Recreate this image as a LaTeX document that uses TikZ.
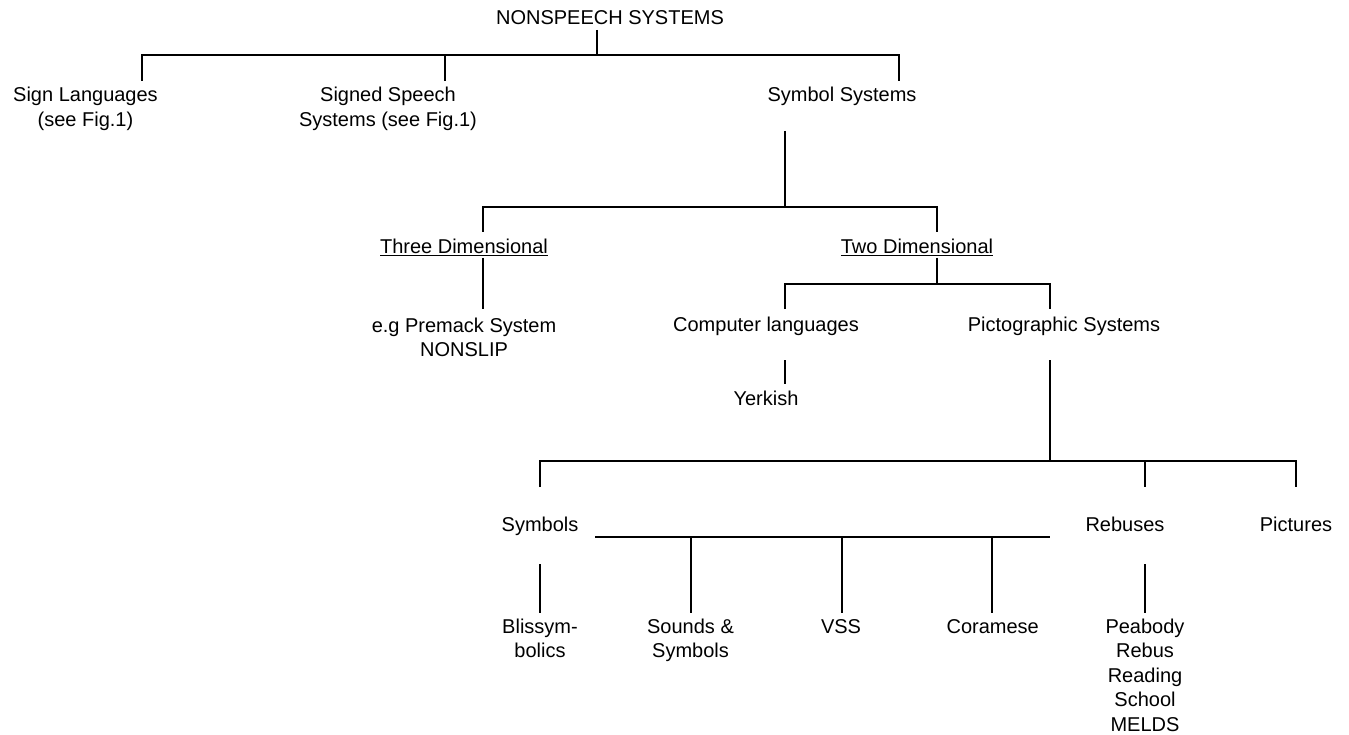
\documentclass[tikz,border=0pt]{standalone}
\usepackage{fontspec}
\setmainfont{Liberation Sans}
\usepackage{tikz}
\usetikzlibrary{positioning}
\definecolor{NSInk}{HTML}{000000}
\definecolor{NSPaper}{HTML}{FFFFFF}
\tikzset{
  branch/.style={draw=NSInk,line width=1.9pt,line join=miter},
  twig/.style={branch,line width=1.7pt},
  entry/.style={text=NSInk,font=\fontsize{20}{24.5}\selectfont,align=center,
                anchor=base,inner sep=0pt},
}

\begin{document}
\begin{tikzpicture}[x=1pt,y=-1pt]
    \fill[NSPaper] (0,0) rectangle (1349,735);
    \useasboundingbox (0,0) rectangle (1349,735);

    % root and its three branches (multi-line entries sit on their last line)
    \node[entry] (nonspeech) at (610,25) {NONSPEECH SYSTEMS};
    \node[entry] (signlang) at (85.5,126.2) {Sign Languages\\(see Fig.1)};
    \node[entry] (signedsp) at (388,126.2) {Signed Speech\\Systems (see Fig.1)};
    \node[entry] (symbolsys) at (842,102) {Symbol Systems};

    \coordinate (root-top) at (597,30);
    \coordinate (root-bus) at (597,55);
    \coordinate (sign-bus) at (142,55);
    \coordinate (sign-end) at (142,81);
    \coordinate (signed-bus) at (445,55);
    \coordinate (signed-end) at (445,81);
    \coordinate (symsys-bus) at (899,55);
    \coordinate (symsys-end) at (899,81);
    \draw[branch] (root-top) -- (root-bus);
    \draw[branch] (sign-end) -- (sign-bus) -- (symsys-bus) -- (symsys-end);
    \draw[branch] (signed-bus) -- (signed-end);

    % symbol systems: three / two dimensional
    \node[entry] (threedim) at (464,254) {\underline{Three Dimensional}};
    \node[entry] (twodim) at (917,254) {\underline{Two Dimensional}};

    \coordinate (symsys-low) at (785,131);
    \coordinate (dim-bus) at (785,207);
    \coordinate (threedim-bus) at (483,207);
    \coordinate (threedim-end) at (483,232);
    \coordinate (twodim-bus) at (937,207);
    \coordinate (twodim-end) at (937,232);
    \draw[branch] (symsys-low) -- (dim-bus);
    \draw[branch] (threedim-end) -- (threedim-bus) -- (twodim-bus) -- (twodim-end);

    % three dimensional
    \node[entry] (premack) at (464,356.5) {e.g Premack System\\NONSLIP};
    \coordinate (threedim-low) at (483,258);
    \coordinate (premack-end) at (483,309);
    \draw[branch] (threedim-low) -- (premack-end);

    % two dimensional: computer / pictographic
    \node[entry] (computer) at (766,331.7) {Computer languages};
    \node[entry] (pictosys) at (1064,331.7) {Pictographic Systems};
    \node[entry] (yerkish) at (766,405) {Yerkish};

    \coordinate (twodim-low) at (937,258);
    \coordinate (twodim-join) at (937,284);
    \coordinate (computer-bus) at (785,284);
    \coordinate (computer-end) at (785,309);
    \coordinate (pictosys-bus) at (1050,284);
    \coordinate (pictosys-end) at (1050,309);
    \draw[branch] (twodim-low) -- (twodim-join);
    \draw[branch] (computer-end) -- (computer-bus) -- (pictosys-bus) -- (pictosys-end);

    \coordinate (computer-low) at (785,360);
    \coordinate (yerkish-end) at (785,384);
    \draw[branch] (computer-low) -- (yerkish-end);

    % pictographic systems: symbols / rebuses / pictures
    \node[entry] (symbols) at (540,531.7) {Symbols};
    \node[entry] (rebuses) at (1125,531.7) {Rebuses};
    \node[entry] (pictures) at (1296,531.7) {Pictures};

    \coordinate (pictosys-low) at (1050,360);
    \coordinate (picto-join) at (1050,461);
    \coordinate (symbols-bus) at (540,461);
    \coordinate (symbols-end) at (540,487);
    \coordinate (rebuses-bus) at (1145,461);
    \coordinate (rebuses-end) at (1145,487);
    \coordinate (pictures-bus) at (1296,461);
    \coordinate (pictures-end) at (1296,487);
    \draw[branch] (pictosys-low) -- (picto-join);
    \draw[branch] (symbols-end) -- (symbols-bus) -- (pictures-bus) -- (pictures-end);
    \draw[branch] (rebuses-bus) -- (rebuses-end);

    % leaves
    \node[entry] (bliss) at (540,657.5) {Blissym-\\bolics};
    \node[entry] (sounds) at (690.5,657.5) {Sounds \&\\Symbols};
    \node[entry] (vss) at (841,633) {VSS};
    \node[entry] (coramese) at (992.7,633) {Coramese};
    \node[entry] (peabody) at (1145,731) {Peabody\\Rebus\\Reading\\School\\MELDS};

    \coordinate (leaf-left) at (595,537);
    \coordinate (leaf-right) at (1050,537);
    \coordinate (sounds-bus) at (691,537);
    \coordinate (sounds-end) at (691,613);
    \coordinate (vss-bus) at (842,537);
    \coordinate (vss-end) at (842,613);
    \coordinate (coramese-bus) at (992,537);
    \coordinate (coramese-end) at (992,613);
    \draw[twig] (leaf-left) -- (leaf-right);
    \draw[twig] (sounds-bus) -- (sounds-end);
    \draw[twig] (vss-bus) -- (vss-end);
    \draw[twig] (coramese-bus) -- (coramese-end);

    \coordinate (symbols-low) at (540,564);
    \coordinate (bliss-end) at (540,613);
    \coordinate (rebuses-low) at (1145,564);
    \coordinate (peabody-end) at (1145,613);
    \draw[twig] (symbols-low) -- (bliss-end);
    \draw[twig] (rebuses-low) -- (peabody-end);
  \end{tikzpicture}
\end{document}
